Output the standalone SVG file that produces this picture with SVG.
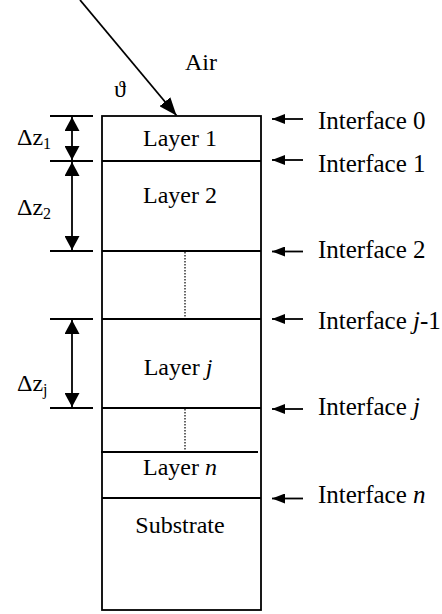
<svg xmlns="http://www.w3.org/2000/svg" width="442" height="614" viewBox="0 0 442 614">
  <style>
    text { font-family: "Liberation Serif", "Times New Roman", serif; font-size: 24px; fill: #000; }
    .mid { text-anchor: middle; }
    .sub { font-size: 16px; }
    .it { font-style: italic; }
    .if { font-size: 25px; }
    .ln { stroke: #000; stroke-width: 1.8; fill: none; }
    .dot { stroke: #000; stroke-width: 1.2; stroke-dasharray: 1.5 1.5; fill: none; }
  </style>
  <defs>
    <marker id="head-ray" markerUnits="userSpaceOnUse" markerWidth="18" markerHeight="14" refX="18" refY="7" orient="auto" viewBox="0 0 18 14">
      <path d="M0,0 L18,7 L0,14 Z" fill="#000"/>
    </marker>
    <marker id="head-dim" markerUnits="userSpaceOnUse" markerWidth="14" markerHeight="15" refX="14" refY="7.5" orient="auto-start-reverse" viewBox="0 0 14 15">
      <path d="M0,0 L14,7.5 L0,15 Z" fill="#000"/>
    </marker>
    <marker id="head-if" markerUnits="userSpaceOnUse" markerWidth="13" markerHeight="10" refX="13" refY="5" orient="auto" viewBox="0 0 13 10">
      <path d="M0,0 L13,5 L0,10 Z" fill="#000"/>
    </marker>
  </defs>

  <!-- layer stack -->
  <g id="stack">
    <rect class="ln" x="102" y="116" width="159" height="494"/>
    <line class="ln" x1="102" y1="161" x2="261" y2="161"/>
    <line class="ln" x1="102" y1="251" x2="261" y2="251"/>
    <line class="ln" x1="102" y1="319" x2="261" y2="319"/>
    <line class="ln" x1="102" y1="408" x2="261" y2="408"/>
    <line class="ln" x1="101" y1="452" x2="258" y2="452" stroke-width="2.2"/>
    <line class="ln" x1="102" y1="498" x2="261" y2="498"/>
    <line class="dot" x1="185" y1="252" x2="185" y2="318"/>
    <line class="dot" x1="185" y1="409" x2="185" y2="451"/>
  </g>

  <g id="layer-1"><text class="mid" x="180" y="146">Layer 1</text></g>
  <g id="layer-2"><text class="mid" x="180" y="203">Layer 2</text></g>
  <g id="layer-j"><text class="mid" x="178" y="375">Layer <tspan class="it">j</tspan></text></g>
  <g id="layer-n"><text class="mid" x="180" y="475">Layer <tspan class="it">n</tspan></text></g>
  <g id="substrate"><text class="mid" x="180" y="533">Substrate</text></g>

  <g id="air"><text x="185" y="70">Air</text></g>
  <g id="angle"><text x="114" y="97">ϑ</text></g>

  <!-- thickness labels -->
  <g id="dz-1"><text x="17" y="145">Δz<tspan class="sub" dy="4">1</tspan></text></g>
  <g id="dz-2"><text x="17" y="215">Δz<tspan class="sub" dy="4">2</tspan></text></g>
  <g id="dz-j"><text x="17" y="391">Δz<tspan class="sub" dy="4">j</tspan></text></g>

  <!-- interface labels -->
  <g id="if-0"><text class="if" x="318" y="129">Interface 0</text></g>
  <g id="if-1"><text class="if" x="318" y="171.5">Interface 1</text></g>
  <g id="if-2"><text class="if" x="318" y="258">Interface 2</text></g>
  <g id="if-jm1"><text class="if" x="318" y="329">Interface <tspan class="it">j</tspan>-1</text></g>
  <g id="if-j"><text class="if" x="318" y="415">Interface <tspan class="it">j</tspan></text></g>
  <g id="if-n"><text class="if" x="318" y="503">Interface <tspan class="it">n</tspan></text></g>

  <g id="connectors">
    <!-- incident ray -->
    <line class="ln" x1="80" y1="0" x2="176.5" y2="115.5" marker-end="url(#head-ray)"/>
    <!-- dimension ticks -->
    <line class="ln" x1="50" y1="116" x2="93" y2="116"/>
    <line class="ln" x1="50" y1="161" x2="93" y2="161"/>
    <line class="ln" x1="50" y1="251" x2="93" y2="251"/>
    <line class="ln" x1="50" y1="319" x2="93" y2="319"/>
    <line class="ln" x1="50" y1="408" x2="93" y2="408"/>
    <!-- dimension arrows -->
    <line class="ln" x1="72" y1="117" x2="72" y2="160" marker-start="url(#head-dim)" marker-end="url(#head-dim)"/>
    <line class="ln" x1="72" y1="162" x2="72" y2="250" marker-start="url(#head-dim)" marker-end="url(#head-dim)"/>
    <line class="ln" x1="72" y1="320" x2="72" y2="407" marker-start="url(#head-dim)" marker-end="url(#head-dim)"/>
    <!-- interface pointers -->
    <line class="ln" x1="303" y1="119" x2="272" y2="119" marker-end="url(#head-if)"/>
    <line class="ln" x1="303" y1="160" x2="272" y2="160" marker-end="url(#head-if)"/>
    <line class="ln" x1="303" y1="251.5" x2="272" y2="251.5" marker-end="url(#head-if)"/>
    <line class="ln" x1="303" y1="319" x2="272" y2="319" marker-end="url(#head-if)"/>
    <line class="ln" x1="303" y1="409" x2="272" y2="409" marker-end="url(#head-if)"/>
    <line class="ln" x1="303" y1="498.5" x2="272" y2="498.5" marker-end="url(#head-if)"/>
  </g>
</svg>
